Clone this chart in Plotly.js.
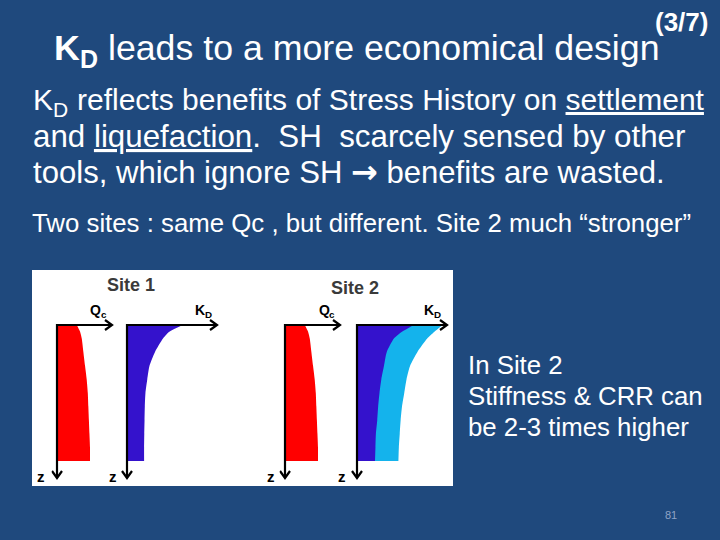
<!DOCTYPE html>
<html>
<head>
<meta charset="utf-8">
<script src="https://cdn.plot.ly/plotly-3.0.1.min.js"></script>
<style>
html,body{margin:0;padding:0;background:#1f497d;}
#chart{width:720px;height:540px;}
</style>
</head>
<body>
<div id="chart"></div>
<script>
// ---------- data (arbitrary units) ----------
const depth        = [0, 0.5, 1, 2, 3, 4, 5, 6, 7, 8, 9, 10];
const qcSite1      = [3.6, 4.2, 4.5, 4.8, 5.1, 5.4, 5.6, 5.7, 5.8, 5.9, 6.0, 6.0];
const qcSite2      = [3.6, 4.2, 4.5, 4.8, 5.1, 5.4, 5.6, 5.7, 5.8, 5.9, 6.0, 6.0];
const kdSite1      = [6.2, 4.7, 4.0, 3.1, 2.5, 2.25, 2.05, 1.98, 1.95, 1.92, 1.9, 1.9];
const kdSite2Base  = [6.3, 5.0, 4.1, 3.3, 3.0, 2.7, 2.5, 2.35, 2.25, 2.1, 2.05, 2.0];
const kdSite2High  = [9.5, 8.6, 7.8, 6.7, 5.9, 5.5, 5.25, 5.0, 4.85, 4.75, 4.65, 4.6];

const siteNames    = ['Site 1', 'Site 2'];
const panelMain    = ['Q', 'K', 'Q', 'K'];
const panelSub     = ['c', 'D', 'c', 'D'];
const depthLabel   = 'z';
const titleMain    = 'K';
const titleSub     = 'D';
const titleRest    = 'leads to a more economical design';
const partText     = '(3/7)';
const body1Main    = 'K';
const body1Sub     = 'D';
const body1Rest    = 'reflects benefits of Stress History on <u>settlement</u>';
const bodyLines    = [
  'and <u>liquefaction</u>.\u00a0 SH \u00a0scarcely sensed by other',
  'tools, which ignore SH <span style="font-family:DejaVu Sans;font-weight:bold;font-size:32px">\u2192</span> benefits are wasted.'
];
const subLine      = 'Two sites : same Qc , but different. Site 2 much \u201cstronger\u201d';
const sideLines    = ['In Site 2', 'Stiffness &amp; CRR can', 'be 2-3 times higher'];
const pageNumber   = '81';

// ---------- layout geometry (pixels) ----------
const W = 720, H = 540;
const fx = p => p / W;
const fy = p => 1 - p / H;
const zTopPx = 325, zScale = 13.6;          // depth 0 at y=325, 13.6 px per unit
const zMin = -0.8, zMax = 11.6;
const arrowDepth = 11.25;                    // end of the depth arrow (axis units)
const arrowValue = 10;                       // end of the value arrow (axis units)
const panels = [
  {origin: 57,  scale: 5.5},   // Qc site 1
  {origin: 127, scale: 9.0},   // KD site 1
  {origin: 285, scale: 5.5},   // Qc site 2
  {origin: 357, scale: 9.0}    // KD site 2
];
const xMin = -1, xMax = 11;

const FONT = 'Liberation Sans, Arial, sans-serif';
const RED = '#ff0000', DARKBLUE = '#3412cc', LIGHTBLUE = '#14b3ec';

const layout = {
  width: W, height: H,
  margin: {l: 0, r: 0, t: 0, b: 0, pad: 0},
  paper_bgcolor: '#1f497d',
  plot_bgcolor: 'rgba(0,0,0,0)',
  showlegend: false,
  font: {family: FONT},
  yaxis: {
    domain: [fy(zTopPx + zMax * zScale), fy(zTopPx + zMin * zScale)],
    range: [zMax, zMin], autorange: false, visible: false, fixedrange: true
  },
  shapes: [{
    type: 'rect', xref: 'paper', yref: 'paper', layer: 'below',
    x0: fx(32), x1: fx(453), y0: fy(486), y1: fy(270),
    fillcolor: '#ffffff', line: {width: 0}
  }],
  annotations: []
};

panels.forEach((p, i) => {
  const key = i === 0 ? 'xaxis' : 'xaxis' + (i + 1);
  layout[key] = {
    domain: [fx(p.origin + xMin * p.scale), fx(p.origin + xMax * p.scale)],
    range: [xMin, xMax], autorange: false, visible: false, fixedrange: true, anchor: 'y'
  };
});

const traces = [];
const xName = i => (i === 0 ? 'x' : 'x' + (i + 1));
function profile(vals, axisIdx, color) {
  traces.push({
    type: 'scatter', mode: 'lines',
    x: vals, y: depth,
    xaxis: xName(axisIdx), yaxis: 'y',
    line: {width: 0, shape: 'spline', smoothing: 0.6, color: color},
    fill: 'tozerox', fillcolor: color, hoverinfo: 'skip'
  });
}
profile(qcSite1, 0, RED);
profile(kdSite1, 1, DARKBLUE);
profile(qcSite2, 2, RED);
profile(kdSite2High, 3, LIGHTBLUE);
profile(kdSite2Base, 3, DARKBLUE);

// axis arrows (lines with open chevron heads), built from the axis ends
const headLen = 7, headHalf = 5;   // px
panels.forEach((p, i) => {
  const hx = headLen / p.scale, hy = headHalf / zScale;
  const vx = headHalf / p.scale, vy = headLen / zScale;
  traces.push({
    type: 'scatter', mode: 'lines', xaxis: xName(i), yaxis: 'y', hoverinfo: 'skip',
    x: [arrowValue, 0, 0, null,
        arrowValue - hx, arrowValue, arrowValue - hx, null,
        -vx, 0, vx],
    y: [0, 0, arrowDepth, null,
        -hy, 0, hy, null,
        arrowDepth - vy, arrowDepth, arrowDepth - vy],
    line: {color: '#000000', width: 2.2},
    connectgaps: false
  });
});

// ---------- text helpers (positioned by baseline) ----------
const ASC = 0.905, DESC = 0.212;             // Liberation Sans metrics
function put(text, x, baseline, size, color, opts) {
  layout.annotations.push(Object.assign({
    xref: 'paper', yref: 'paper', x: fx(x), y: fy(baseline - (ASC - DESC) / 2 * size),
    xanchor: 'left', yanchor: 'middle', showarrow: false, text: text, align: 'left',
    borderpad: 0, borderwidth: 0,
    font: {family: FONT, size: size, color: color}
  }, opts || {}));
}
// main letter followed by a subscript, drawn as two texts
function subbed(main, sub, x, baseline, size, advEm, color, bold, subAdvEm) {
  const w = t => (bold ? '<b>' + t + '</b>' : t);
  const subSize = size * 0.7;
  put(w(main), x, baseline, size, color);
  put(w(sub), x + advEm * size, baseline + 0.21 * size, subSize, color);
  return x + advEm * size + subAdvEm * subSize;
}

// panel labels
const labelX = [90, 195, 318.5, 424];
const labelAdv = [0.778, 0.722, 0.778, 0.722];
const labelSubAdv = [0.556, 0.722, 0.556, 0.722];
panelMain.forEach((m, i) => {
  subbed(m, panelSub[i], labelX[i], 314.5, 14, labelAdv[i], '#000000', true, labelSubAdv[i]);
});
const zPos = [37, 109, 267, 338];
zPos.forEach(x => put('<b>' + depthLabel + '</b>', x, 481.5, 15, '#000000'));
const sitePos = [107, 331];
const siteBase = [291.5, 294.5];
siteNames.forEach((s, i) => put('<b>' + s + '</b>', sitePos[i], siteBase[i], 18, '#3a3a3a'));

// slide texts
const tEnd = subbed(titleMain, titleSub, 54, 60.5, 35.7, 0.722, '#ffffff', true, 0.722);
put(titleRest, tEnd + 0.278 * 35.7, 60.5, 35.7, '#ffffff');
put('<b>' + partText + '</b>', 655, 31, 26, '#ffffff');

const bEnd = subbed(body1Main, body1Sub, 33, 110, 30, 0.667, '#ffffff', false, 0.722);
put(body1Rest, bEnd + 0.278 * 30, 110, 30, '#ffffff');
const bodyBase = [147.5, 182.5];
const bodySize = [31.3, 31.1];
bodyLines.forEach((t, i) => put(t, 33, bodyBase[i], bodySize[i], '#ffffff'));
put(subLine, 32, 231.5, 25.8, '#ffffff');
const sideBase = [374, 405, 436];
sideLines.forEach((t, i) => put(t, 468, sideBase[i], 25.8, '#ffffff'));
put(pageNumber, 665, 519, 11, '#8fa3c6');

Plotly.newPlot('chart', traces, layout, {staticPlot: true, displayModeBar: false});
</script>
</body>
</html>
